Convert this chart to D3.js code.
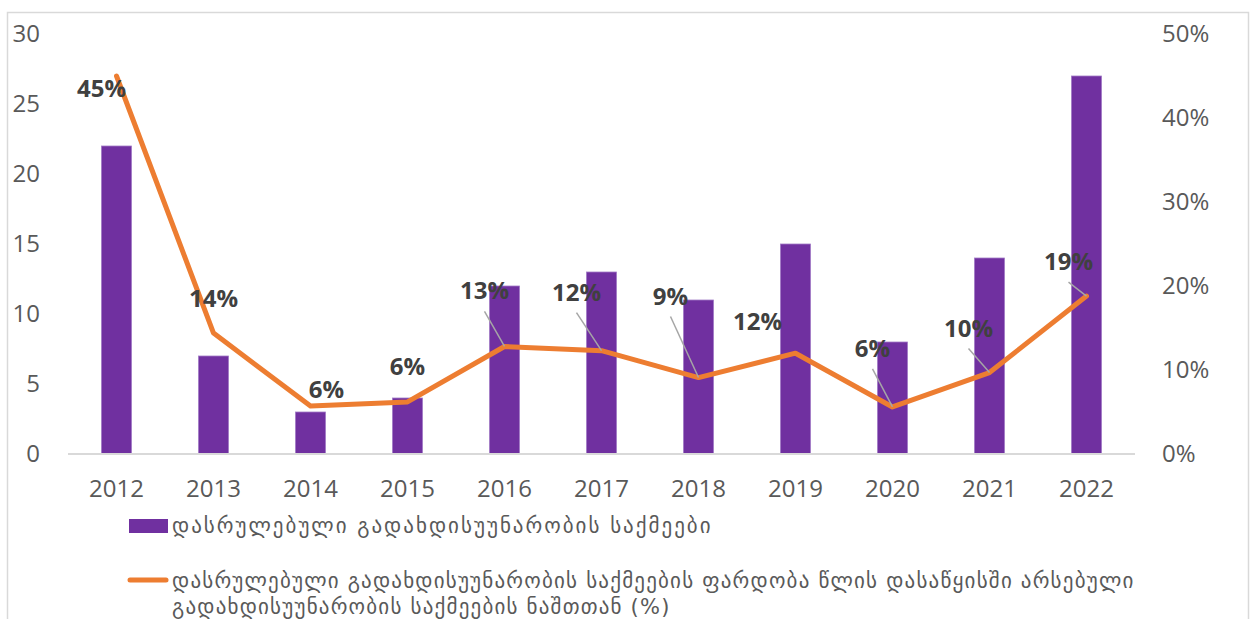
<!DOCTYPE html>
<html>
<head>
<meta charset="utf-8">
<script src="https://cdn.jsdelivr.net/npm/d3@7"></script>
<style>
  body { margin: 0; background: #fff; }
  svg text { font-family: "Open Sans", "DejaVu Sans", sans-serif; }
  .legend text { font-family: "DejaVu Sans", "Noto Sans", sans-serif; }
</style>
</head>
<body>
<svg id="chart" width="1254" height="619"></svg>
<script>
// data
let years = ["2012", "2013", "2014", "2015", "2016", "2017", "2018", "2019", "2020", "2021", "2022"]
let cases = [22, 7, 3, 4, 12, 13, 11, 15, 8, 14, 27]
let share = [0.45, 0.144, 0.057, 0.062, 0.128, 0.123, 0.091, 0.12, 0.056, 0.097, 0.188]
let share_labels = ["45%", "14%", "6%", "6%", "13%", "12%", "9%", "12%", "6%", "10%", "19%"]
let left_ticks = [0, 5, 10, 15, 20, 25, 30]
let right_ticks = [0, 0.1, 0.2, 0.3, 0.4, 0.5]
let legend_bar = "დასრულებული გადახდისუუნარობის საქმეები"
let legend_line = ["დასრულებული გადახდისუუნარობის საქმეების ფარდობა წლის დასაწყისში არსებული",
                   "გადახდისუუნარობის საქმეების ნაშთთან (%)"]

// label placement relative to the point (dx, dy, leader line?)
let label_offsets = [
  [-15, 21, false], [0, -26, false], [16, -8, false], [0, -27, false],
  [-20, -47, true], [-25, -50, true], [-28, -73, true], [-38, -23, false],
  [-20, -50, true], [-21, -36, true], [-18, -26, true]
]

let svg = d3.select("#chart")
let margin = {top: 34, bottom: 454, left: 68, right: 1135}

// outer frame
svg.append("rect")
  .attr("x", 7.5).attr("y", 12.5)
  .attr("width", 1241).attr("height", 640)
  .attr("fill", "none").attr("stroke", "#d9d9d9").attr("stroke-width", 1.5)

let x = d3.scaleBand()
  .domain(years)
  .range([margin.left, margin.right])
  .paddingInner(0.69)
  .paddingOuter(0.345)

let y = d3.scaleLinear().domain([0, 30]).range([margin.bottom, margin.top])
let y2 = d3.scaleLinear().domain([0, 0.5]).range([margin.bottom, margin.top])

// axes
let left_axis = d3.axisLeft(y).tickValues(left_ticks).tickSize(0).tickPadding(28)
svg.append("g")
  .attr("transform", `translate(${margin.left},0)`)
  .call(left_axis)
  .call(g => g.select(".domain").remove())

let right_axis = d3.axisRight(y2).tickValues(right_ticks).tickSize(0).tickPadding(27)
  .tickFormat(d3.format(".0%"))
svg.append("g")
  .attr("transform", `translate(${margin.right},0)`)
  .call(right_axis)
  .call(g => g.select(".domain").remove())

let bottom_axis = d3.axisBottom(x).tickSize(0).tickPadding(26)
svg.append("g")
  .attr("transform", `translate(0,${margin.bottom})`)
  .call(bottom_axis)
  .call(g => g.select(".domain").remove())

svg.selectAll(".tick text")
  .attr("font-size", 24)
  .attr("fill", "#595959")
  .style("font-family", "'Open Sans', sans-serif")

// bars
svg.append("g")
  .selectAll("rect")
  .data(cases)
  .join("rect")
  .attr("x", (d, i) => x(years[i]))
  .attr("y", d => y(d))
  .attr("width", x.bandwidth())
  .attr("height", d => y(0) - y(d))
  .attr("fill", "#7030a0")
  .attr("stroke", "#a27cc6")
  .attr("stroke-width", 0.8)

// baseline
svg.append("line")
  .attr("x1", margin.left).attr("x2", margin.right)
  .attr("y1", y(0)).attr("y2", y(0))
  .attr("stroke", "#d9d9d9").attr("stroke-width", 2)

// line
let cx = i => x(years[i]) + x.bandwidth() / 2
let path_generator = d3.line()
  .x((d, i) => cx(i))
  .y(d => y2(d))

svg.append("path")
  .datum(share)
  .attr("d", path_generator)
  .attr("fill", "none")
  .attr("stroke", "#ed7d31")
  .attr("stroke-width", 5)
  .attr("stroke-linejoin", "round")
  .attr("stroke-linecap", "round")

// leader lines
svg.append("g")
  .selectAll("line")
  .data(share.map((d, i) => i).filter(i => label_offsets[i][2]))
  .join("line")
  .attr("x1", i => cx(i) + label_offsets[i][0])
  .attr("y1", i => y2(share[i]) + label_offsets[i][1] + 12)
  .attr("x2", i => cx(i))
  .attr("y2", i => y2(share[i]))
  .attr("stroke", "#a6a6a6")
  .attr("stroke-width", 1.5)

// data labels
svg.append("g")
  .selectAll("text")
  .data(share)
  .join("text")
  .attr("x", (d, i) => cx(i) + label_offsets[i][0])
  .attr("y", (d, i) => y2(d) + label_offsets[i][1])
  .attr("text-anchor", "middle")
  .attr("font-size", 24)
  .attr("font-weight", "bold")
  .attr("fill", "#404040")
  .text((d, i) => share_labels[i])

// legend
let legend = svg.append("g").attr("class", "legend")
legend.append("rect")
  .attr("x", 129).attr("y", 519)
  .attr("width", 39).attr("height", 14)
  .attr("fill", "#7030a0")
legend.append("text")
  .attr("x", 172).attr("y", 533)
  .attr("font-size", 21)
  .attr("letter-spacing", 2)
  .attr("fill", "#595959")
  .text(legend_bar)

legend.append("line")
  .attr("x1", 130).attr("x2", 166)
  .attr("y1", 580).attr("y2", 580)
  .attr("stroke", "#ed7d31").attr("stroke-width", 5)
  .attr("stroke-linecap", "round")
legend.selectAll("text.l2")
  .data(legend_line)
  .join("text")
  .attr("class", "l2")
  .attr("x", 172)
  .attr("y", (d, i) => 588 + i * 26)
  .attr("font-size", 21)
  .attr("letter-spacing", 1.2)
  .attr("fill", "#595959")
  .text(d => d)
</script>
</body>
</html>
